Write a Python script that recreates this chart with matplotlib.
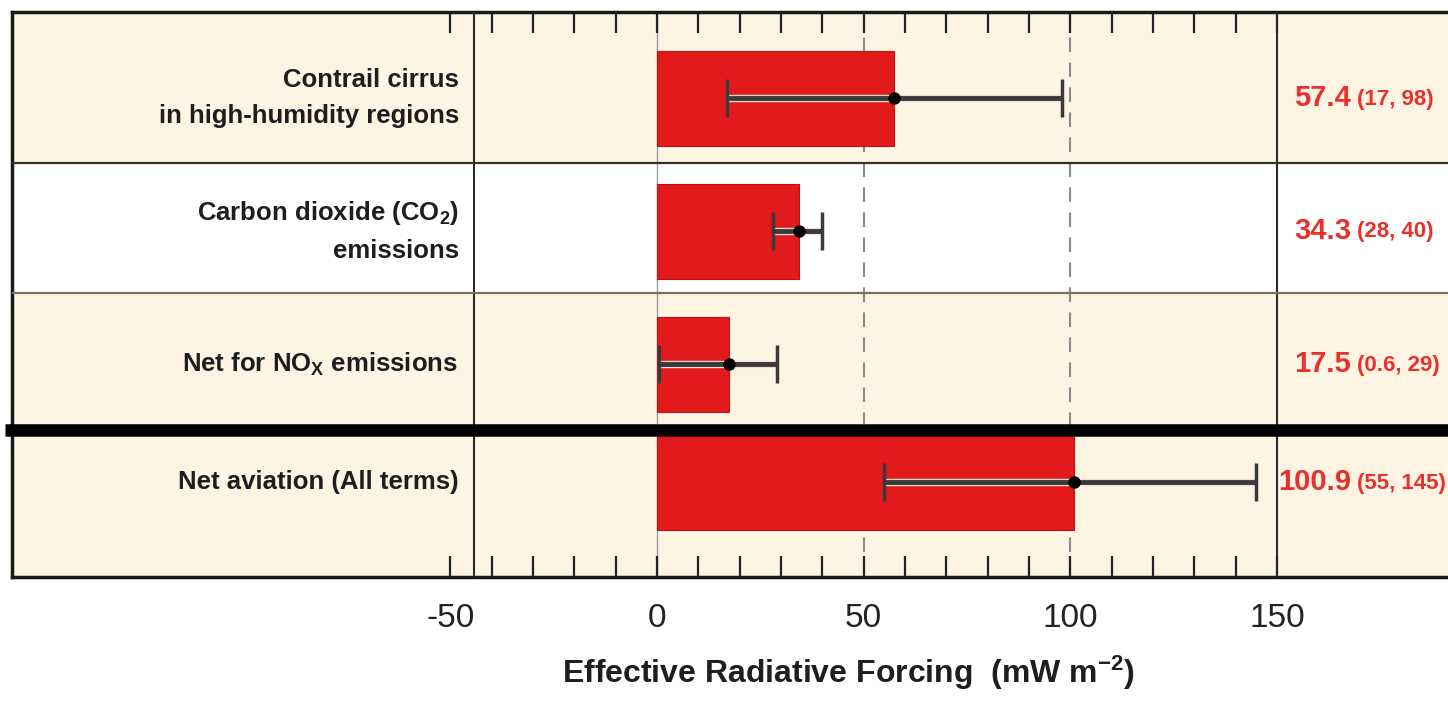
import numpy as np
import matplotlib
matplotlib.use('Agg')
import matplotlib.pyplot as plt
from matplotlib import font_manager
from matplotlib import patheffects as pe

# pick a condensed sans if we have one
names = {f.name for f in font_manager.fontManager.ttflist}
font = 'Liberation Sans Narrow' if 'Liberation Sans Narrow' in names else 'Liberation Sans'
plt.rcParams['font.family'] = [font, 'DejaVu Sans']
plt.rcParams['mathtext.fontset'] = 'custom'
plt.rcParams['mathtext.rm'] = font
plt.rcParams['mathtext.bf'] = font + ':bold'
plt.rcParams['mathtext.it'] = font + ':italic'
plt.rcParams['axes.unicode_minus'] = False

# Data
labels = ["Contrail cirrus\nin high-humidity regions",
          "Carbon dioxide (CO$_\\mathbf{2}$)\nemissions",
          "Net for NO$_\\mathbf{X}$ emissions ",
          "Net aviation (All terms)"]
best = [57.4, 34.3, 17.5, 100.9]
low = [17, 28, 0.6, 55]
high = [98, 40, 29, 145]

# Layout, in pixels of the 1448x704 picture
W, H = 1448, 704
top, bottom = 12, 577
row_edges = [12, 163, 293, 430, 577]
row_centers = [98, 231, 364, 482]
row_fill = ['#fdf4e3', 'white', '#fdf4e3', '#fdf4e3']
beige = '#fdf4e3'
red = '#e31a1c'
x_zero, px_per_unit = 657, 620 / 150


def fx(p):
    # picture x pixel -> forcing units
    return (p - x_zero) / px_per_unit


fig = plt.figure(figsize=(W / 100, H / 100), dpi=100)
ax = fig.add_axes([12 / W, 1 - bottom / H, 1 - 12 / W, (bottom - top) / H])
ax.set_xlim(fx(12), fx(W))
ax.set_ylim(bottom, top)
ax.set_facecolor(beige)

# row backgrounds
for i in range(4):
    ax.axhspan(row_edges[i], row_edges[i + 1], color=row_fill[i], lw=0, zorder=0)

# reference lines
ax.axvline(0, color='#9a9a9a', lw=1, zorder=1)
for v in (50, 100):
    ax.axvline(v, color='#8a8a8a', lw=1.5, dashes=(7, 5), zorder=1)

# bars + uncertainty ranges
ax.barh(row_centers, best, height=95, color=red, edgecolor='#b8171a', lw=0.8, zorder=2)
err = ax.errorbar(best, row_centers,
                  xerr=[np.subtract(best, low), np.subtract(high, best)],
                  fmt='o', color='black', ms=8, ecolor='#3a3a3a',
                  elinewidth=3.5, capsize=13.5, capthick=2.5, zorder=3)
err.lines[2][0].set_path_effects([pe.Stroke(linewidth=5.3, foreground='#f7ddd8'), pe.Normal()])

# grid of the table
ax.axvline(fx(474), color='#2a2a2a', lw=1.5, zorder=4)
ax.axvline(150, color='#2a2a2a', lw=1.5, zorder=4)
ax.axhline(row_edges[1], color='#333029', lw=1.6, zorder=4)
ax.axhline(row_edges[2], color='#7a7060', lw=1.6, zorder=4)
ax.plot([fx(5), fx(W)], [row_edges[3], row_edges[3]], color='black', lw=9,
        solid_capstyle='butt', clip_on=False, zorder=5)

# row labels and values
for i in range(4):
    yc = row_centers[i]
    ax.text(fx(459), yc, labels[i], ha='right', va='center', fontsize=18.5,
            fontweight='bold', color='#1e1e1e', linespacing=1.6, zorder=6)
    ax.text(fx(1351), yc, f'{best[i]}', ha='right', va='center', fontsize=21,
            fontweight='bold', color='#e8302c', zorder=6)
    ax.text(fx(1357), yc + 1, f'({low[i]:g}, {high[i]:g})', ha='left', va='center',
            fontsize=16, fontweight='bold', color='#e8302c', zorder=6)

# axis
ax.set_xticks([-50, 0, 50, 100, 150])
ax.set_xticks(np.arange(-50, 150, 10), minor=True)
ax.set_yticks([])
ax.tick_params(axis='x', which='both', direction='in', top=True, bottom=True,
               length=15, width=1.6, color='#222222')
ax.tick_params(axis='x', which='major', labelsize=24, pad=19, labelcolor='#222222')
for s in ['top', 'bottom', 'left']:
    ax.spines[s].set_linewidth(2.5)
    ax.spines[s].set_color('#1a1a1a')
ax.spines['right'].set_visible(False)

fig.text(849 / W, 1 - 673 / H, 'Effective Radiative Forcing  (mW m$^{\\mathbf{-2}}$)',
         ha='center', va='center', fontsize=23, fontweight='bold', color='#1e1e1e')

fig.savefig('out.png', dpi=100)
